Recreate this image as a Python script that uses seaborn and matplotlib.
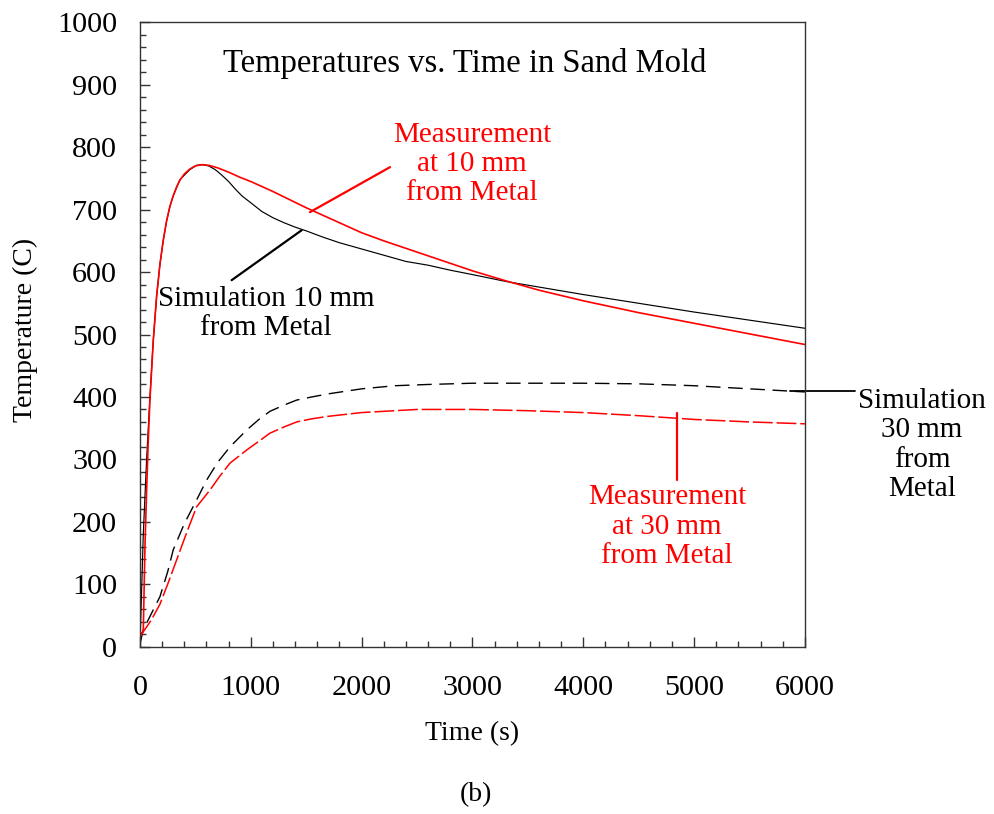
import matplotlib
matplotlib.use("Agg")
import matplotlib.pyplot as plt
import seaborn as sns
from matplotlib.ticker import MultipleLocator

# Measured temperature 10 mm from the metal (s, C)
time_meas_10 = [0, 15, 30, 45, 60, 75, 90, 120, 150, 180, 210, 240, 270, 300, 330,
                360, 400, 450, 500, 560, 620, 700, 800, 900, 1000, 1100, 1200,
                1350, 1500, 1650, 1800, 2000, 2200, 2400, 2700, 3000, 3300, 3600,
                4000, 4500, 5000, 5500, 6000]
temp_meas_10 = [20, 22, 25, 160, 250, 330, 395, 490, 561, 612, 651, 682, 705, 722, 736,
                747, 757, 765, 770, 772, 771, 767, 760, 752, 745, 737, 729,
                716, 703, 691, 679, 663, 650, 638, 620, 602, 586, 571,
                554, 535, 518, 501, 484]

# Simulated temperature 10 mm from the metal
time_sim_10 = [0, 10, 30, 60, 90, 120, 150, 180, 210, 240, 270, 300, 360, 450, 510,
               560, 620, 680, 740, 800, 860, 920, 1000, 1100, 1200, 1300, 1400,
               1500, 1650, 1800, 2000, 2200, 2400, 2600, 2800, 3000, 3300, 3600,
               4000, 4500, 5000, 5500, 6000]
temp_sim_10 = [0, 60, 180, 300, 400, 490, 560, 612, 650, 681, 705, 722, 748, 764, 771,
               772, 770, 764, 755, 745, 733, 722, 711, 697, 687, 679, 672,
               666, 656, 647, 637, 627, 617, 611, 603, 596, 585, 576,
               564, 550, 536, 523, 510]

# Simulated temperature 30 mm from the metal
time_sim_30 = [0, 30, 100, 180, 250, 300, 400, 511, 602, 700, 812, 963, 1080, 1173,
               1300, 1414, 1550, 1700, 2000, 2300, 2600, 3000, 4000, 4500, 5000,
               5500, 6000]
temp_sim_30 = [5, 27, 52, 80, 120, 155, 197, 235, 267, 295, 320, 347, 365, 377,
               387, 395, 400, 405, 413, 418, 420, 422, 422, 421, 418,
               413, 408]

# Measured temperature 30 mm from the metal
time_meas_30 = [0, 30, 100, 180, 250, 331, 420, 511, 632, 720, 812, 963, 1080, 1173,
                1300, 1414, 1550, 1700, 2000, 2500, 3000, 3500, 4000, 4500, 5000,
                5500, 6000]
temp_meas_30 = [15, 24, 42, 68, 100, 139, 182, 224, 251, 273, 294, 315, 330, 342,
                352, 360, 365, 369, 375, 380, 380, 378, 375, 370, 364,
                360, 357]

x_ticks = [0, 1000, 2000, 3000, 4000, 5000, 6000]
y_ticks = [0, 100, 200, 300, 400, 500, 600, 700, 800, 900, 1000]

sns.set_style("white")
plt.rcParams['font.family'] = ['Liberation Serif', 'DejaVu Serif']
plt.rcParams['text.color'] = 'black'
plt.rcParams['axes.labelcolor'] = 'black'
plt.rcParams['xtick.color'] = 'black'
plt.rcParams['ytick.color'] = 'black'

RED = "#ff0000"
fig = plt.figure(figsize=(9.94, 8.14), dpi=100)
ax = fig.add_axes([0.1408, 0.2055, 0.669, 0.7671])

sns.lineplot(x=time_sim_30, y=temp_sim_30, ax=ax, color="black", lw=1.0,
             linestyle=(0, (10.5, 5.5)), sort=False)
sns.lineplot(x=time_meas_30, y=temp_meas_30, ax=ax, color=RED, lw=1.1,
             linestyle=(0, (13, 2.5)), sort=False)
sns.lineplot(x=time_sim_10, y=temp_sim_10, ax=ax, color="black", lw=0.85, sort=False)
sns.lineplot(x=time_meas_10, y=temp_meas_10, ax=ax, color=RED, lw=1.2, sort=False)

ax.set_xlim(0, 6000)
ax.set_ylim(0, 1000)
ax.set_xticks(x_ticks)
ax.set_yticks(y_ticks)
ax.xaxis.set_minor_locator(MultipleLocator(200))
ax.yaxis.set_minor_locator(MultipleLocator(20))
ax.tick_params(which="both", direction="in", top=False, right=False,
               bottom=True, left=True, color="#333333", width=1.0)
ax.tick_params(which="major", length=7, labelsize=21.7, labelcolor="black")
ax.tick_params(axis="y", which="major", pad=16.5)
ax.tick_params(axis="x", which="major", pad=20)
ax.tick_params(which="minor", length=4.5)
for sp in ax.spines.values():
    sp.set_color("#333333")
    sp.set_linewidth(1.0)

ax.set_xlabel("Time (s)", fontsize=20)
ax.xaxis.label.set_va("center")
ax.xaxis.set_label_coords(0.5, (646.7 - 734) / 624.4)
ax.set_ylabel("Temperature (C)", fontsize=20)
ax.yaxis.label.set_va("center")
ax.yaxis.set_label_coords((25 - 140) / 665, 0.507)

fig.text(476 / 994, 1 - 795 / 814, "(b)", fontsize=20, ha="center", va="center")

ax.text(2932, 934, "Temperatures vs. Time in Sand Mold", fontsize=23.5,
        ha="center", va="center")

txt = dict(ha="center", va="center", multialignment="center", fontsize=21,
           linespacing=1.17)
ax.text(2995, 773, "Measurement\nat 10 mm\nfrom Metal", color=RED, **txt)
ax.text(1137, 534, "Simulation 10 mm\nfrom Metal", color="black", **txt)
ax.text(7056, 323, "Simulation\n30 mm\nfrom\nMetal", color="black",
        clip_on=False, **txt)
ax.text(4755, 192, "Measurement\nat 30 mm\nfrom Metal", color=RED, **txt)

ax.plot([2256, 1534], [768, 696], color=RED, lw=1.6)
ax.plot([827, 1459], [587, 667], color="black", lw=1.6)
ax.plot([5865, 6451], [409, 409], color="black", lw=1.3, clip_on=False)
ax.plot([4845, 4845], [374, 267], color=RED, lw=1.6)

fig.savefig("out.png", dpi=100, facecolor="white")
